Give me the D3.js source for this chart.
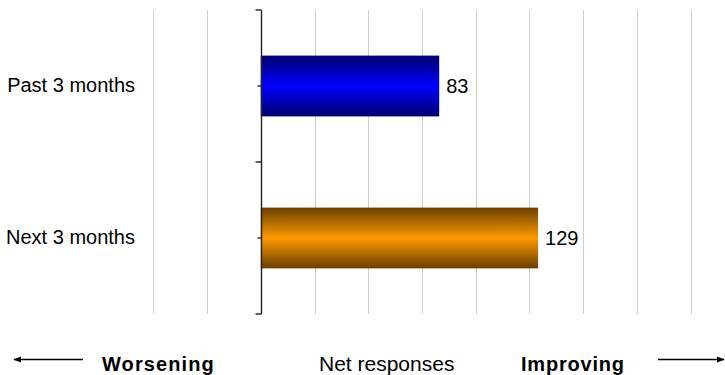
<!DOCTYPE html>
<html>
<head>
<meta charset="utf-8">
<script src="https://cdn.jsdelivr.net/npm/d3@7"></script>
<style>
  html, body { margin: 0; padding: 0; background: #fff; }
  svg { display: block; font-family: "Liberation Sans", Arial, sans-serif; }
</style>
</head>
<body>
<svg id="chart" width="725" height="375"></svg>
<script>
// Data
const categories = ["Past 3 months", "Next 3 months"];
const values = [83, 129];
const seriesColors = [["#00006e", "#0000ff"], ["#6a3f00", "#ff9900"]];
const xTicks = [-50, -25, 0, 25, 50, 75, 100, 125, 150, 175, 200];
const footLabels = ["Worsening", "Net responses", "Improving"];

const svg = d3.select("#chart");
const x = d3.scaleLinear().domain([-50, 200]).range([153.3, 690.7]);
const y = d3.scaleBand().domain(categories).range([10, 314]).padding(0);
const barH = y.bandwidth() * 0.4;

// gradients
const defs = svg.append("defs");
seriesColors.forEach((c, i) => {
  const g = defs.append("linearGradient").attr("id", "g" + i)
    .attr("x1", 0).attr("y1", 0).attr("x2", 0).attr("y2", 1);
  g.append("stop").attr("offset", "0%").attr("stop-color", c[0]);
  g.append("stop").attr("offset", "50%").attr("stop-color", c[1]);
  g.append("stop").attr("offset", "100%").attr("stop-color", c[0]);
});

// gridlines
svg.append("g").selectAll("line")
  .data(xTicks.filter(d => d !== 0))
  .join("line")
  .attr("x1", d => Math.round(x(d)) + 0.5).attr("x2", d => Math.round(x(d)) + 0.5)
  .attr("y1", y.range()[0]).attr("y2", y.range()[1])
  .attr("stroke", "#cfcfcf").attr("stroke-width", 1);

// bars
svg.append("g").selectAll("rect")
  .data(values)
  .join("rect")
  .attr("x", x(0))
  .attr("y", (d, i) => y(categories[i]) + y.bandwidth() / 2 - barH / 2)
  .attr("width", d => x(d) - x(0))
  .attr("height", barH)
  .attr("fill", (d, i) => `url(#g${i})`);

// value labels
svg.append("g").selectAll("text")
  .data(values)
  .join("text")
  .attr("x", d => x(d) + 7)
  .attr("y", (d, i) => y(categories[i]) + y.bandwidth() / 2 + 7)
  .attr("font-size", 20)
  .attr("fill", "#000")
  .text(d => d);

// category labels
svg.append("g").selectAll("text")
  .data(categories)
  .join("text")
  .attr("x", 135)
  .attr("y", d => y(d) + y.bandwidth() / 2 + 6)
  .attr("text-anchor", "end")
  .attr("font-size", 20)
  .attr("fill", "#000")
  .text(d => d);

// y axis
const ax = Math.round(x(0)) + 0.5;
const axisG = svg.append("g").attr("stroke", "#222").attr("stroke-width", 1.4);
axisG.append("line").attr("x1", ax).attr("x2", ax).attr("y1", y.range()[0]).attr("y2", y.range()[1]);
const boundaries = [y.range()[0]].concat(categories.map(c => y(c) + y.bandwidth()));
axisG.selectAll(".maj").data(boundaries).join("line").attr("class", "maj")
  .attr("x1", ax - 6).attr("x2", ax).attr("y1", d => d).attr("y2", d => d);
axisG.selectAll(".mid").data(categories).join("line").attr("class", "mid")
  .attr("x1", ax - 4).attr("x2", ax)
  .attr("y1", d => y(d) + y.bandwidth() / 2).attr("y2", d => y(d) + y.bandwidth() / 2);

// footer
const fy = 371;
svg.append("text").attr("x", 102).attr("y", fy).attr("font-size", 20).attr("font-weight", "bold")
  .attr("letter-spacing", 1.1).text(footLabels[0]);
svg.append("text").attr("x", 319).attr("y", fy).attr("font-size", 21)
  .text(footLabels[1]);
svg.append("text").attr("x", 521).attr("y", fy).attr("font-size", 20).attr("font-weight", "bold")
  .attr("letter-spacing", 0.8).text(footLabels[2]);

// arrows
defs.append("marker").attr("id", "ah").attr("viewBox", "0 0 10 10").attr("refX", 9).attr("refY", 5)
  .attr("markerWidth", 5).attr("markerHeight", 5).attr("orient", "auto-start-reverse")
  .append("path").attr("d", "M0,1 L10,5 L0,9 z").attr("fill", "#000");
svg.append("line").attr("x1", 83).attr("x2", 14).attr("y1", 359.5).attr("y2", 359.5)
  .attr("stroke", "#000").attr("stroke-width", 1.6).attr("marker-end", "url(#ah)");
svg.append("line").attr("x1", 658).attr("x2", 724).attr("y1", 359.5).attr("y2", 359.5)
  .attr("stroke", "#000").attr("stroke-width", 1.6).attr("marker-end", "url(#ah)");
</script>
</body>
</html>
